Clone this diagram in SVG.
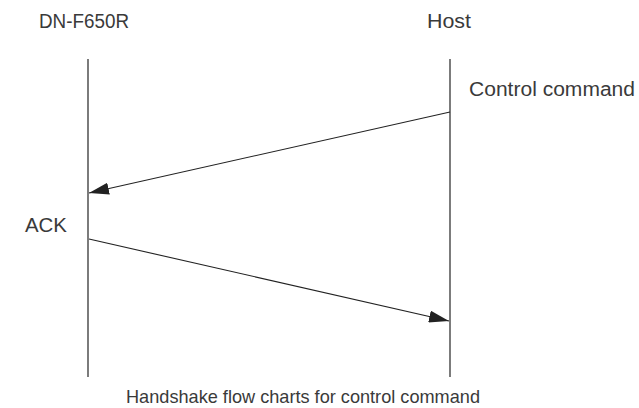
<svg xmlns="http://www.w3.org/2000/svg" width="639" height="408" viewBox="0 0 639 408">
<style>
text{font-family:"Liberation Sans",Arial,sans-serif;font-size:19.5px;fill:#3a3a3a}
.cap{font-size:19px}
.life{stroke:#444;stroke-width:1.4}
.msg{stroke:#222;stroke-width:1.1;fill:none;marker-end:url(#ah)}
</style>
<defs>
<marker id="ah" markerUnits="userSpaceOnUse" markerWidth="22" markerHeight="12" refX="20" refY="6" orient="auto">
<path d="M0,0 L20,6 L0,12 Z" fill="#222"/>
</marker>
</defs>
<rect width="639" height="408" fill="#fff"/>
<g id="dn">
<text x="39" y="28" textLength="90" lengthAdjust="spacingAndGlyphs">DN-F650R</text>
<line class="life" x1="88" y1="59" x2="88" y2="377"/>
</g>
<g id="host">
<text x="427" y="28" textLength="44" lengthAdjust="spacingAndGlyphs">Host</text>
<line class="life" x1="450" y1="59" x2="450" y2="377"/>
</g>
<g id="connectors">
<line class="msg" x1="450" y1="112" x2="89" y2="193"/>
<line class="msg" x1="89" y1="239" x2="449" y2="321"/>
</g>
<g id="labels">
<text x="469" y="96" textLength="166" lengthAdjust="spacingAndGlyphs">Control command</text>
<text x="25" y="232" textLength="42" lengthAdjust="spacingAndGlyphs">ACK</text>
<text class="cap" x="126" y="403" textLength="354" lengthAdjust="spacingAndGlyphs">Handshake flow charts for control command</text>
</g>
</svg>
